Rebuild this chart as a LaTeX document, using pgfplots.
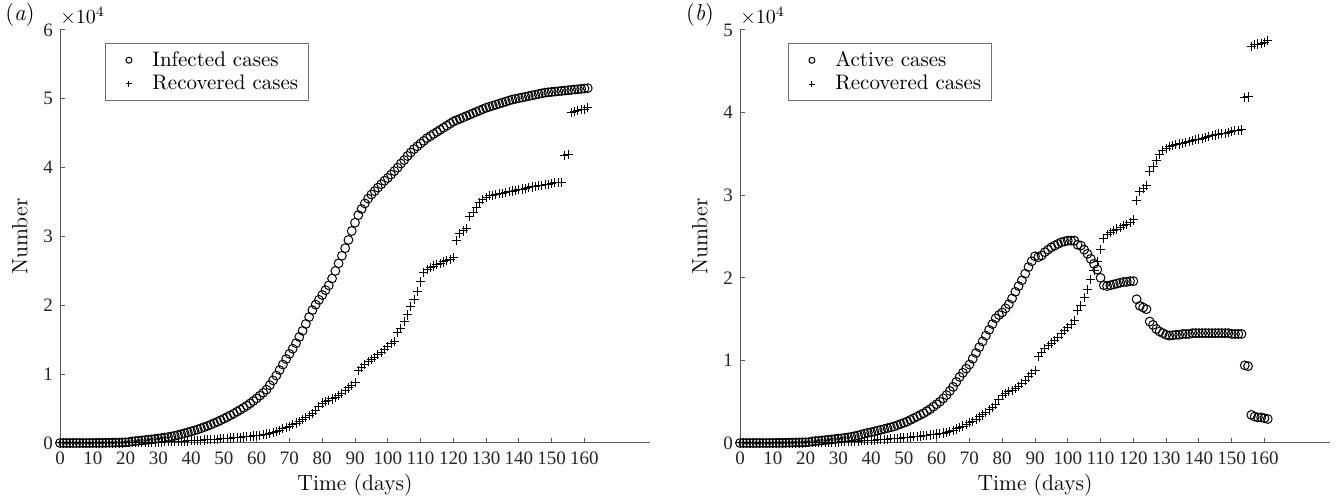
\documentclass[border=0pt]{standalone}
\usepackage{fontspec}
\usepackage{pgfplots}
\usepackage{pgfplotstable}
\pgfplotsset{compat=1.18}
\newfontfamily\tnr{Liberation Serif}

% day, infected, recovered, active
\pgfplotstableread{
d I R A
0 0 0 0
1 0 0 0
2 0 0 0
3 0 0 0
4 0 0 0
5 0 0 0
6 0 0 0
7 0 0 0
8 0 0 0
9 0 0 0
10 10 0 10
11 10 0 10
12 20 0 20
13 20 0 20
14 30 0 30
15 40 0 40
16 50 0 50
17 60 0 60
18 70 0 70
19 80 0 80
20 100 20 80
21 130 30 100
22 230 40 190
23 280 50 230
24 320 60 260
25 380 70 310
26 430 80 350
27 480 90 390
28 530 100 430
29 590 110 480
30 650 120 530
31 710 140 570
32 780 160 620
33 860 180 680
34 950 200 750
35 1050 220 830
36 1160 240 920
37 1280 260 1020
38 1410 280 1130
39 1540 300 1240
40 1680 320 1300
41 1820 350 1400
42 1970 380 1500
43 2130 410 1600
44 2300 440 1700
45 2480 470 1800
46 2670 500 1900
47 2870 530 2000
48 3080 560 2150
49 3300 600 2300
50 3530 640 2450
51 3770 680 2600
52 4020 720 2800
53 4280 760 3000
54 4550 800 3200
55 4830 840 3400
56 5120 880 3600
57 5420 920 3850
58 5750 970 4100
59 6100 1020 4400
60 6480 1080 4700
61 6880 1140 5000
62 7300 1200 5400
63 7750 1300 5800
64 8400 1420 6300
65 9100 1550 6800
66 9800 1700 7400
67 10600 1870 8000
68 11400 2050 8500
69 12200 2250 9000
70 12950 2450 9500
71 13700 2650 10200
72 14500 2900 10900
73 15400 3150 11600
74 16300 3400 12300
75 17300 3700 13000
76 18300 4000 13700
77 19300 4300 14400
78 20100 4700 15100
79 20800 5300 15500
80 21500 5800 15800
81 22200 6000 16300
82 22900 6200 16800
83 23900 6400 17500
84 25000 6600 18300
85 26100 6850 19000
86 27200 7200 19700
87 28300 7600 20500
88 29500 8000 21300
89 30800 8400 22000
90 32000 8800 22600
91 33100 10500 22500
92 34000 11000 22700
93 34800 11400 23100
94 35500 11800 23400
95 36100 12100 23700
96 36600 12400 23900
97 37100 12800 24100
98 37600 13200 24300
99 38100 13600 24400
100 38500 14000 24500
101 39000 14400 24500
102 39500 14800 24500
103 40000 16000 24000
104 40600 16600 23900
105 41100 17600 23400
106 41700 18600 22900
107 42200 19800 22300
108 42700 20900 21700
109 43100 22000 21000
110 43500 23400 20000
111 43900 24800 19100
112 44300 25200 19000
113 44600 25500 19100
114 44900 25700 19200
115 45200 25900 19300
116 45500 26100 19400
117 45800 26300 19500
118 46100 26500 19500
119 46400 26700 19600
120 46700 27000 19600
121 46900 29400 17400
122 47100 30400 16600
123 47300 30800 16400
124 47500 31200 16200
125 47700 32900 14700
126 47900 33500 14300
127 48100 34200 13800
128 48300 34900 13500
129 48500 35400 13300
130 48700 35700 13100
131 48850 35900 13000
132 49000 36000 13050
133 49150 36100 13100
134 49300 36200 13100
135 49450 36300 13200
136 49600 36400 13200
137 49750 36500 13200
138 49900 36600 13300
139 50000 36700 13300
140 50100 36800 13300
141 50200 36900 13300
142 50300 37000 13300
143 50400 37100 13300
144 50500 37200 13300
145 50600 37300 13300
146 50700 37400 13300
147 50800 37450 13300
148 50900 37500 13300
149 50950 37600 13300
150 51000 37700 13200
151 51050 37800 13200
152 51100 37850 13200
153 51150 37900 13200
154 51200 41800 9400
155 51250 41900 9300
156 51300 48000 3400
157 51350 48200 3200
158 51400 48300 3100
159 51450 48400 3100
160 51500 48500 3000
161 51550 48700 2900
}\cases

\pgfplotsset{
  panel/.style={
    scale only axis,
    width=295pt, height=206.5pt,
    xmin=0, xmax=180, ymin=0,
    axis x line=bottom, axis y line=left,
    axis line style={-, black!65, line width=0.5pt},
    tick style={black!65, line width=0.5pt},
    tick align=inside,
    major tick length=2.5pt,
    xtick={0,10,...,160},
    xticklabels={0,10,20,30,40,50,60,70,80,90,100,110,120,130,140,150,160},
    scaled y ticks=false,
    tick label style={font=\tnr\fontsize{9.5}{11}\selectfont, text=black!85},
    xlabel={Time (days)},
    ylabel={Number},
    xlabel style={at={(axis description cs:0.5,0)}, yshift=-12pt, anchor=north, font=\fontsize{11}{13}\selectfont},
    ylabel style={at={(axis description cs:-0.068,0.5)}, anchor=center, font=\fontsize{11}{13}\selectfont},
    xticklabel style={yshift=-1pt},
    legend cell align=left,
    legend image code/.code={\path (0cm,0cm) (0.6cm,0cm);
      \draw[#1, mark size=1.5pt] plot coordinates {(0.3cm,0cm)};},
    legend style={draw=black!55, line width=0.5pt, font=\fontsize{10.5}{13}\selectfont,
      anchor=north west, inner xsep=3pt, inner ysep=2pt, row sep=-1pt,
      column sep=1pt},
    clip=false,
  },
  circ/.style={only marks, mark=o, mark size=2.2pt, black, mark options={line width=0.5pt}},
  plus/.style={only marks, mark=+, mark size=2.3pt, black, mark options={line width=0.5pt}},
}

\begin{document}
\begin{tikzpicture}
\path[use as bounding box] (-30pt,-29.5pt) rectangle (638pt,221.5pt);

\begin{axis}[panel,
    ymax=60000,
    ytick={0,10000,...,60000},
    yticklabels={0,1,2,3,4,5,6},
    legend style={at={(axis description cs:0.076,0.969)}},
]
\addplot[circ] table[x=d, y=I] {\cases};
\addlegendentry{Infected cases}
\addplot[plus] table[x=d, y=R] {\cases};
\addlegendentry{Recovered cases}
\node[anchor=south west, inner sep=0pt, font=\fontsize{10}{12}\selectfont] at (rel axis cs:0,1) [yshift=2pt] {$\times 10^4$};
\node[font=\fontsize{11.5}{13}\selectfont] at (rel axis cs:0,1) [xshift=-20pt, yshift=7.5pt] {(\textit{a})};
\end{axis}

\begin{axis}[panel, xshift=340pt,
    ymax=50000,
    ytick={0,10000,...,50000},
    yticklabels={0,1,2,3,4,5},
    legend style={at={(axis description cs:0.081,0.969)}},
]
\addplot[circ] table[x=d, y=A] {\cases};
\addlegendentry{Active cases}
\addplot[plus] table[x=d, y=R] {\cases};
\addlegendentry{Recovered cases}
\node[anchor=south west, inner sep=0pt, font=\fontsize{10}{12}\selectfont] at (rel axis cs:0,1) [yshift=2pt] {$\times 10^4$};
\node[font=\fontsize{11.5}{13}\selectfont] at (rel axis cs:0,1) [xshift=-20pt, yshift=7.5pt] {(\textit{b})};
\end{axis}
\end{tikzpicture}
\end{document}
